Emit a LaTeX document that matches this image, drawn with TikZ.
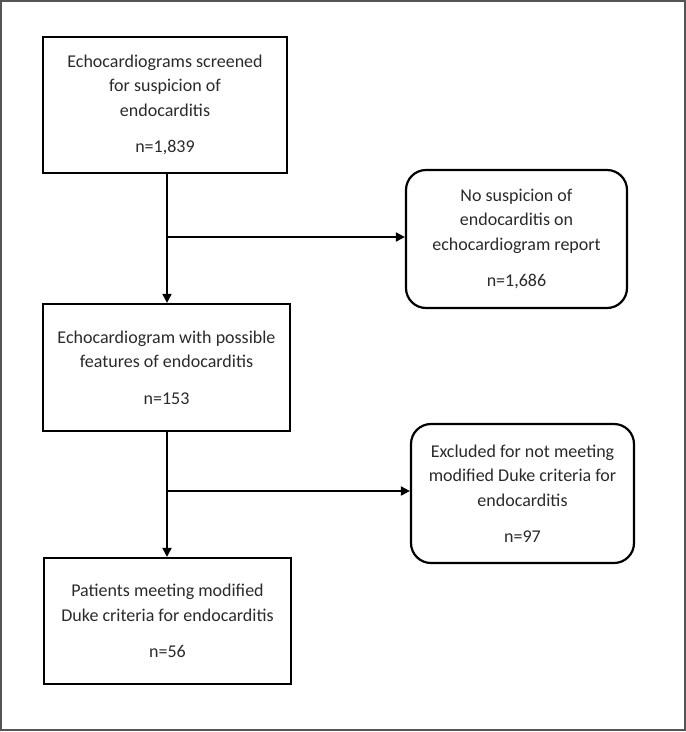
\documentclass[tikz,border=0pt]{standalone}
\usepackage{fontspec}
\setmainfont{Carlito}
\usetikzlibrary{arrows.meta,positioning}
\definecolor{txt}{HTML}{2A2A2A}
\definecolor{frame}{HTML}{555555}
\tikzset{
  sqbox/.style={draw=black, line width=2.2pt, align=center, inner sep=0pt,
    font=\fontsize{18}{24.5}\selectfont, text=txt},
  rdbox/.style={sqbox, rounded corners=20pt},
  conn/.style={line width=1.9pt, draw=black},
  arr/.style={conn, -{Triangle[length=9pt,width=9pt]}}
}
\begin{document}
\begin{tikzpicture}[x=1pt,y=-1pt]
\useasboundingbox (0,0) rectangle (686,732);
\draw[frame, line width=2pt] (1,1) rectangle (685,730);

\node[sqbox, minimum width=244pt, minimum height=136pt] (b1) at (165,105)
  {Echocardiograms screened\\for suspicion of\\endocarditis\\[12pt]n=1,839};
\node[sqbox, minimum width=247pt, minimum height=127pt] (b2) at (166.5,367.5)
  {Echocardiogram with possible\\features of endocarditis\\[12pt]n=153};
\node[sqbox, minimum width=247pt, minimum height=126pt] (b3) at (167.5,621)
  {Patients meeting modified\\Duke criteria for endocarditis\\[12pt]n=56};
\node[rdbox, minimum width=221pt, minimum height=138pt] (r1) at (516.5,239)
  {No suspicion of\\endocarditis on\\echocardiogram report\\[12pt]n=1,686};
\node[rdbox, minimum width=223pt, minimum height=139pt] (r2) at (522.5,493.5)
  {Excluded for not meeting\\modified Duke criteria for\\endocarditis\\[12pt]n=97};

\coordinate (j1) at (167,237);
\coordinate (j2) at (167,491);

\draw[arr] (b1.south -| j1) -- (b2.north -| j1);
\draw[arr] (j1) -- (j1 -| r1.west);
\draw[arr] (b2.south -| j2) -- (b3.north -| j2);
\draw[arr] (j2) -- (j2 -| r2.west);
\end{tikzpicture}
\end{document}
